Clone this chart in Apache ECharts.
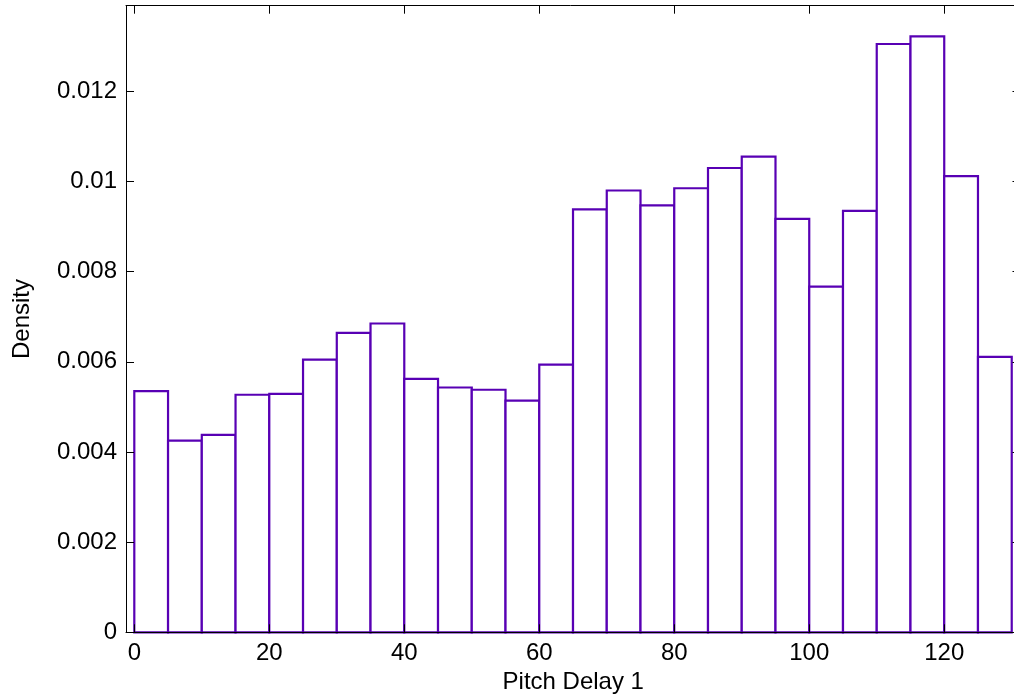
<!DOCTYPE html>
<html>
<head>
<meta charset="utf-8">
<title>Pitch Delay 1 density</title>
<script src="https://cdn.jsdelivr.net/npm/echarts@6/dist/echarts.min.js"></script>
<style>
  html, body { margin: 0; padding: 0; background: #fff; }
  #chart { width: 1014px; height: 700px; }
</style>
</head>
<body>
<div id="chart"></div>
<script>
// Histogram bin edges (width 5) and the density in each bin
const binEdges = [0, 5, 10, 15, 20, 25, 30, 35, 40, 45, 50, 55, 60, 65,
                  70, 75, 80, 85, 90, 95, 100, 105, 110, 115, 120, 125, 130];
const density = [0.00535, 0.00425, 0.00438, 0.00527, 0.00529, 0.00605, 0.00664,
                 0.00685, 0.00562, 0.00543, 0.00538, 0.00514, 0.00594, 0.00938,
                 0.00980, 0.00947, 0.00985, 0.01030, 0.01055, 0.00917, 0.00767,
                 0.00935, 0.01305, 0.01322, 0.01012, 0.00611];

const xTickValues = [0, 20, 40, 60, 80, 100, 120];
const yTickValues = [0, 0.002, 0.004, 0.006, 0.008, 0.010, 0.012];
const yTickLabels = ['0', '0.002', '0.004', '0.006', '0.008', '0.01', '0.012'];

const FONT = 'Liberation Sans, Arial, Helvetica, sans-serif';
const FONT_SIZE = 24;
const BAR_EDGE = '#5800b4';

const bins = density.map((d, i) => [binEdges[i], binEdges[i + 1], d]);

const X_MIN = -1.23, X_MAX = 131.3;
const Y_MIN = 0, Y_MAX = 0.0139;

function yLabel(v) {
  for (let i = 0; i < yTickValues.length; i++) {
    if (Math.abs(yTickValues[i] - v) < 1e-9) return yTickLabels[i];
  }
  return '';
}

const axisLine = { show: true, onZero: false, lineStyle: { color: '#000', width: 1 } };
const tickStyle = { color: '#000', width: 1 };
const textStyle = { fontSize: FONT_SIZE, color: '#000', fontFamily: FONT };

const chart = echarts.init(document.getElementById('chart'), null, { renderer: 'canvas' });
chart.setOption({
  animation: false,
  backgroundColor: '#fff',
  grid: {
    left: 126, top: 5.7, width: 894.5, height: 626.6,
    containLabel: false, outerBoundsMode: 'none'
  },
  xAxis: [
    {
      type: 'value', position: 'bottom', min: X_MIN, max: X_MAX, z: 5,
      axisLine: axisLine,
      axisTick: { show: true, inside: true, length: 8, customValues: xTickValues, lineStyle: tickStyle },
      axisLabel: Object.assign({ customValues: xTickValues, margin: 9 }, textStyle),
      splitLine: { show: false },
      name: 'Pitch Delay 1', nameLocation: 'middle', nameGap: 35,
      nameTextStyle: textStyle
    },
    {
      type: 'value', position: 'top', min: X_MIN, max: X_MAX, z: 5,
      axisLine: axisLine,
      axisTick: { show: true, inside: true, length: 8, customValues: xTickValues, lineStyle: tickStyle },
      axisLabel: { show: false },
      splitLine: { show: false }
    }
  ],
  yAxis: [
    {
      type: 'value', position: 'left', min: Y_MIN, max: Y_MAX, z: 5,
      axisLine: axisLine,
      axisTick: { show: true, inside: true, length: 8, customValues: yTickValues, lineStyle: tickStyle },
      axisLabel: Object.assign({ customValues: yTickValues, formatter: yLabel, margin: 9 }, textStyle),
      splitLine: { show: false },
      name: 'Density', nameLocation: 'middle', nameGap: 92,
      nameTextStyle: textStyle
    },
    {
      type: 'value', position: 'right', min: Y_MIN, max: Y_MAX, z: 5,
      axisLine: axisLine,
      axisTick: { show: true, inside: true, length: 8, customValues: yTickValues, lineStyle: tickStyle },
      axisLabel: { show: false },
      splitLine: { show: false }
    }
  ],
  series: [{
    type: 'custom',
    xAxisIndex: 0,
    yAxisIndex: 0,
    z: 1,
    encode: { x: [0, 1], y: 2 },
    data: bins,
    renderItem: function (params, api) {
      const top = api.coord([api.value(0), api.value(2)]);
      const base = api.coord([api.value(1), 0]);
      return {
        type: 'rect',
        shape: { x: top[0], y: top[1], width: base[0] - top[0], height: base[1] - top[1] },
        style: { fill: '#fff', stroke: BAR_EDGE, lineWidth: 2.2 }
      };
    }
  }]
});
</script>
</body>
</html>
